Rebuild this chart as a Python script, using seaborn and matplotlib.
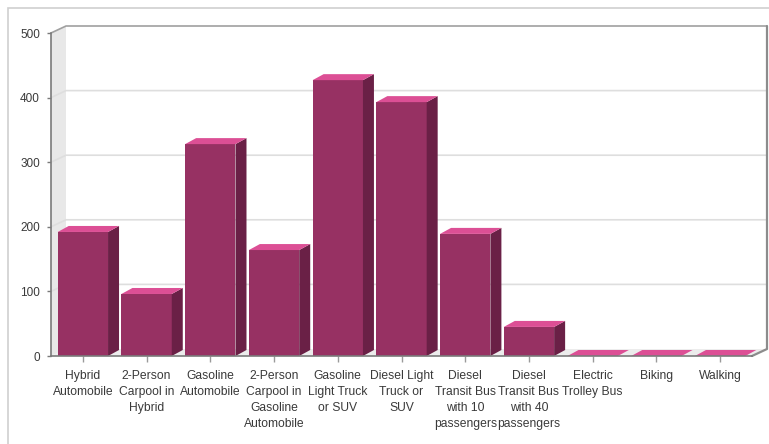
import matplotlib
matplotlib.use("Agg")
import matplotlib.pyplot as plt
from matplotlib.patches import Polygon, Rectangle
import seaborn as sns
import pandas as pd

# Emissions by travel mode
categories = [
    "Hybrid\nAutomobile",
    "2-Person\nCarpool in\nHybrid",
    "Gasoline\nAutomobile",
    "2-Person\nCarpool in\nGasoline\nAutomobile",
    "Gasoline\nLight Truck\nor SUV",
    "Diesel Light\nTruck or\nSUV",
    "Diesel\nTransit Bus\nwith 10\npassengers",
    "Diesel\nTransit Bus\nwith 40\npassengers",
    "Electric\nTrolley Bus",
    "Biking",
    "Walking",
]
values = [192, 96, 328, 164, 427, 393, 189, 45, 0, 0, 0]
y_ticks = [0, 100, 200, 300, 400, 500]

FRONT = "#973163"
SIDE = "#6a2046"
TOP = "#dc4f95"
TEXT = "#3a3a3a"

sns.set_theme(style="white")
plt.rcParams["font.family"] = ["Liberation Sans", "DejaVu Sans"]

W, H = 769, 444
fig = plt.figure(figsize=(W / 100, H / 100), dpi=100)
ax = fig.add_axes([51 / W, (H - 356) / H, (752 - 51) / W, 323 / H])

df = pd.DataFrame({"mode": categories, "value": values})
sns.barplot(data=df, x="mode", y="value", color=FRONT, saturation=1,
            width=0.79, edgecolor="none", linewidth=0, ax=ax, zorder=3)

ax.set_xlim(-0.5, len(categories) - 0.5)
ax.set_ylim(0, 500)
ax.patch.set_visible(False)

# pixel -> data conversion for the depth offsets
fig.canvas.draw()
p0 = ax.transData.transform((0, 0))
p1 = ax.transData.transform((1, 100))
ux = p1[0] - p0[0]
uy = (p1[1] - p0[1]) / 100.0

wall_dx, wall_dy = 15 / ux, 7 / uy
bar_dx, bar_dy = 11 / ux, 6 / uy

x_lo, x_hi = -0.5, len(categories) - 0.5

# side wall, back wall, floor
ax.add_patch(Polygon([(x_lo, 0), (x_lo, 500), (x_lo + wall_dx, 500 + wall_dy),
                      (x_lo + wall_dx, wall_dy)], closed=True,
                     facecolor="#e8e8e8", edgecolor="none", zorder=0.5, clip_on=False))
ax.add_patch(Polygon([(x_lo + wall_dx, wall_dy), (x_lo + wall_dx, 500 + wall_dy),
                      (x_hi + wall_dx, 500 + wall_dy), (x_hi + wall_dx, wall_dy)],
                     closed=True, facecolor="white", edgecolor="none", zorder=0.5,
                     clip_on=False))
ax.add_patch(Polygon([(x_lo, 0), (x_hi, 0), (x_hi + wall_dx, wall_dy),
                      (x_lo + wall_dx, wall_dy)], closed=True,
                     facecolor="#ececec", edgecolor="none", zorder=0.6, clip_on=False))

for v in y_ticks[1:]:
    ax.plot([x_lo, x_lo + wall_dx, x_hi + wall_dx], [v, v + wall_dy, v + wall_dy],
            color="#dedede" if v < 500 else "#a0a0a0", lw=1.2, zorder=0.8,
            clip_on=False, solid_capstyle="butt")

# right edge of the box
ax.plot([x_hi + wall_dx, x_hi + wall_dx, x_hi], [500 + wall_dy, wall_dy, 0],
        color="#8c8c8c", lw=1.6, zorder=0.9, clip_on=False)

# top and side faces of each bar
for patch in list(ax.patches):
    if not isinstance(patch, Rectangle) or patch.get_width() > 0.95:
        continue
    x0 = patch.get_x()
    x1 = x0 + patch.get_width()
    h = patch.get_height()
    ax.add_patch(Polygon([(x1, 0), (x1, h), (x1 + bar_dx, h + bar_dy), (x1 + bar_dx, bar_dy)],
                         closed=True, facecolor=SIDE, edgecolor="none", zorder=3,
                         clip_on=False))
    ax.add_patch(Polygon([(x0, h), (x1, h), (x1 + bar_dx, h + bar_dy), (x0 + bar_dx, h + bar_dy)],
                         closed=True, facecolor=TOP, edgecolor="none", zorder=3,
                         clip_on=False))

for side in ["top", "right"]:
    ax.spines[side].set_visible(False)
for side in ["left", "bottom"]:
    ax.spines[side].set_color("#7a7a7a")
    ax.spines[side].set_linewidth(1.2)
    ax.spines[side].set_zorder(4)

ax.set_yticks(y_ticks)
ax.set_yticklabels([str(v) for v in y_ticks])
ax.tick_params(axis="y", length=3, width=1, color="#7a7a7a", pad=5,
               labelsize=8.5, labelcolor=TEXT, left=True)
ax.tick_params(axis="x", length=4, width=1, color="#9a9a9a", pad=6,
               labelsize=8.7, labelcolor=TEXT, bottom=True)
for lab in ax.get_xticklabels():
    lab.set_linespacing(1.45)
    lab.set_verticalalignment("top")
ax.set_xlabel("")
ax.set_ylabel("")

# outer frame
fig.patches.append(Rectangle((8 / W, -0.1), 1.2, (H - 8) / H + 0.1, transform=fig.transFigure,
                             fill=False, edgecolor="#cfcfcf", lw=1.2, zorder=0))

fig.savefig("out.png", dpi=100)
